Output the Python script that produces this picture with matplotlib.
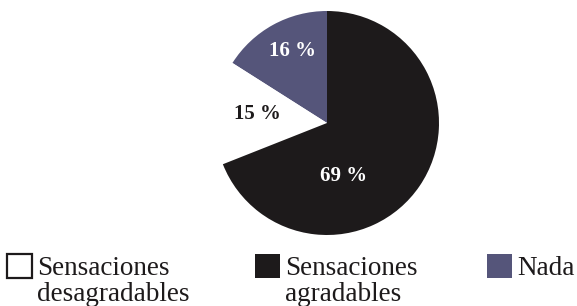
import matplotlib
matplotlib.use("Agg")
import matplotlib.pyplot as plt
from matplotlib.patches import Rectangle

categories = ["Sensaciones\ndesagradables", "Sensaciones\nagradables", "Nada"]
values = [15, 69, 16]
colors = ["#ffffff", "#1d1a1b", "#55557a"]
label_colors = ["#1d1a1b", "#ffffff", "#ffffff"]
pie_order = [2, 0, 1]

W, H = 577, 306
fig = plt.figure(figsize=(W / 100, H / 100), dpi=100)
fig.patch.set_facecolor("white")

# pie axes: centre (327,123) px, radius 112 px
cx, cy, r = 327, 123, 112
ax = fig.add_axes([(cx - r) / W, (H - cy - r) / H, 2 * r / W, 2 * r / H])
ax.axis("off")

ordered_vals = [values[i] for i in pie_order]
ordered_cols = [colors[i] for i in pie_order]
wedges, _ = ax.pie(ordered_vals, colors=ordered_cols, startangle=90,
                   counterclock=True, radius=1, center=(0, 0),
                   wedgeprops=dict(linewidth=0), frame=False)
ax.set_xlim(-1, 1)
ax.set_ylim(-1, 1)
ax.set_aspect("auto")

label_pos = {0: (-0.625, 0.08), 1: (0.15, -0.47), 2: (-0.31, 0.64)}
for i in range(len(values)):
    x, y = label_pos[i]
    ax.text(x, y, f"{values[i]} %", color=label_colors[i], ha="center",
            va="center", fontsize=15, fontweight="bold",
            family="Liberation Serif")

# legend
box_x = [7, 255, 487]
box_w, box_h, box_top = 25, 24, 254
for i, name in enumerate(categories):
    fig.patches.append(Rectangle((box_x[i] / W, (H - box_top - box_h) / H),
                                 box_w / W, box_h / H,
                                 transform=fig.transFigure,
                                 facecolor=colors[i],
                                 edgecolor="#1d1a1b" if i == 0 else colors[i],
                                 linewidth=1.6 if i == 0 else 0))
    fig.text((box_x[i] + box_w + 5) / W, (H - 256) / H, name,
             ha="left", va="top", fontsize=19.5, family="Liberation Serif",
             color="#1d1a1b", linespacing=1.05)

fig.savefig("out.png", dpi=100)
